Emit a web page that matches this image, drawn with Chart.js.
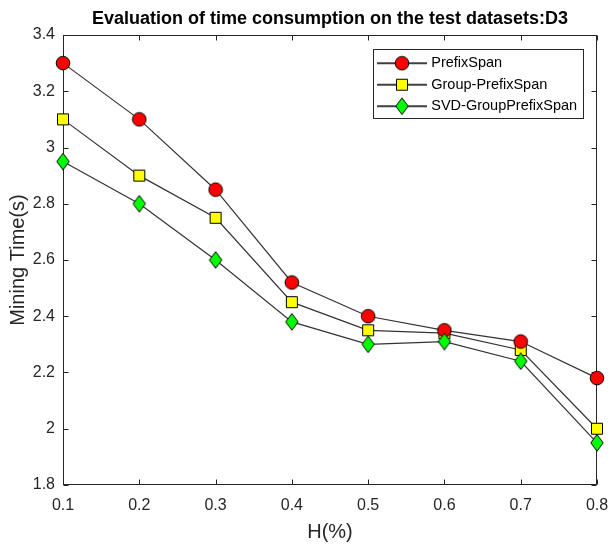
<!DOCTYPE html>
<html><head><meta charset="utf-8">
<script src="https://cdn.jsdelivr.net/npm/chart.js@4.4.1/dist/chart.umd.min.js"></script>
<style>html,body{margin:0;padding:0;background:#fff}</style>
</head><body>
<canvas id="c" width="612" height="545"></canvas>
<script>
// ---- data ----
const categories = ['0.1','0.2','0.3','0.4','0.5','0.6','0.7','0.8'];
const prefixSpan = [3.30, 3.10, 2.85, 2.52, 2.40, 2.35, 2.31, 2.18];
const groupPrefixSpan = [3.10, 2.90, 2.75, 2.45, 2.35, 2.34, 2.28, 2.00];
const svdGroupPrefixSpan = [2.95, 2.80, 2.60, 2.38, 2.30, 2.31, 2.24, 1.95];
const seriesNames = ['PrefixSpan', 'Group-PrefixSpan', 'SVD-GroupPrefixSpan'];
const yTickValues = [1.8, 2.0, 2.2, 2.4, 2.6, 2.8, 3.0, 3.2, 3.4];
const yTickLabels = ['1.8', '2', '2.2', '2.4', '2.6', '2.8', '3', '3.2', '3.4'];
const titleText = 'Evaluation of time consumption on the test datasets:D3';
const xTitle = 'H(%)';
const yTitle = 'Mining Time(s)';

const FONT = "'Liberation Sans', Arial, Helvetica, sans-serif";
const AXIS = '#262626';
const LINE = '#333333';

// ---- marker images ----
function mk(w, h, draw) {
  const c = document.createElement('canvas'); c.width = w; c.height = h;
  const g = c.getContext('2d'); g.lineWidth = 1; g.strokeStyle = '#000';
  draw(g, w, h); return c;
}
function circle(g, cx, cy) { g.beginPath(); g.arc(cx, cy, 6.8, 0, Math.PI * 2); g.fillStyle = '#ff0000'; g.fill(); g.stroke(); }
function square(g, cx, cy) { g.beginPath(); g.rect(cx - 5.5, cy - 5.5, 11, 11); g.fillStyle = '#ffff00'; g.fill(); g.stroke(); }
function diamond(g, cx, cy) { g.beginPath(); g.moveTo(cx, cy - 8.3); g.lineTo(cx + 6.2, cy); g.lineTo(cx, cy + 8.3); g.lineTo(cx - 6.2, cy); g.closePath(); g.fillStyle = '#00ff00'; g.fill(); g.stroke(); }
const drawers = [circle, square, diamond];
const markers = drawers.map(d => mk(16, 18, (g, w, h) => d(g, w / 2, h / 2)));
const legendIcons = drawers.map(d => mk(50, 20, (g, w, h) => {
  g.beginPath(); g.moveTo(0, 10); g.lineTo(50, 10); g.strokeStyle = '#000'; g.lineWidth = 1.4; g.stroke();
  g.lineWidth = 1; g.strokeStyle = '#000'; d(g, 25, 10);
}));

// ---- plugins ----
const axesBox = {
  id: 'axesBox',
  beforeDatasetsDraw(chart) {
    const { ctx, chartArea: a, scales: { x, y } } = chart;
    ctx.save();
    ctx.strokeStyle = AXIS; ctx.lineWidth = 1;
    const L = Math.round(a.left) + 0.5, R = Math.round(a.right) - 0.5, T = Math.round(a.top) + 0.5, B = Math.round(a.bottom) - 0.5;
    ctx.strokeRect(L, T, R - L, B - T);
    ctx.beginPath();
    x.ticks.forEach((t, i) => {
      const px = Math.round(x.getPixelForTick(i)) + 0.5;
      ctx.moveTo(px, B); ctx.lineTo(px, B - 5);
      ctx.moveTo(px, T); ctx.lineTo(px, T + 5);
    });
    y.ticks.forEach(t => {
      const py = Math.round(y.getPixelForValue(t.value)) + 0.5;
      ctx.moveTo(L, py); ctx.lineTo(L + 5, py);
      ctx.moveTo(R, py); ctx.lineTo(R - 5, py);
    });
    ctx.stroke(); ctx.restore();
  }
};
const LEG_W = 210, LEG_H = 69;
const legendPlace = {
  id: 'legendPlace',
  afterLayout(chart) {
    const lg = chart.legend, a = chart.chartArea;
    lg.left = a.right - 14 - LEG_W; lg.right = lg.left + LEG_W; lg.width = LEG_W;
    lg.top = a.top + 14; lg.bottom = lg.top + 200; lg.height = 200;
  },
  afterDraw(chart) {
    const lg = chart.legend, ctx = chart.ctx;
    ctx.save(); ctx.strokeStyle = AXIS; ctx.lineWidth = 1;
    ctx.strokeRect(Math.round(lg.left) + 0.5, Math.round(lg.top) + 0.5, LEG_W, LEG_H);
    ctx.restore();
  }
};

const drawOrder = [1, 2, 0];
const seriesData = [prefixSpan, groupPrefixSpan, svdGroupPrefixSpan];

new Chart(document.getElementById('c'), {
  type: 'line',
  data: {
    labels: categories,
    datasets: seriesData.map((d, i) => ({
      label: seriesNames[i], data: d,
      borderColor: LINE, borderWidth: 1.2, tension: 0, fill: false,
      pointStyle: markers[i], pointRadius: 7, pointHoverRadius: 7,
      clip: false, order: drawOrder[i]
    }))
  },
  options: {
    responsive: false, animation: false, events: [],
    layout: { padding: { left: 0, right: 15, top: 0, bottom: 0 } },
    plugins: {
      tooltip: { enabled: false },
      title: {
        display: true, text: titleText, fullSize: false, color: '#000',
        font: { family: FONT, size: 18, weight: 'bold', lineHeight: 1.2 },
        padding: { top: 8, bottom: 5.4 }
      },
      legend: {
        display: true, position: 'chartArea', align: 'start',
        labels: {
          usePointStyle: true, pointStyleWidth: 44, padding: 7, color: '#000',
          font: { family: FONT, size: 14.5 },
          generateLabels: chart => chart.data.datasets.map((ds, i) => ({
            text: ds.label, pointStyle: legendIcons[i], datasetIndex: i, hidden: false,
            fillStyle: 'transparent', strokeStyle: 'transparent', lineWidth: 0
          }))
        }
      }
    },
    scales: {
      x: {
        type: 'category', offset: false,
        grid: { display: false, drawTicks: false },
        border: { display: false },
        ticks: { color: AXIS, padding: 11, maxRotation: 0, autoSkip: false, font: { family: FONT, size: 16 } },
        title: { display: true, text: xTitle, color: AXIS, font: { family: FONT, size: 20 }, padding: { top: 0, bottom: 1 } },
        afterFit(s) { s.height = 60; s.paddingLeft = 0; s.paddingRight = 0; }
      },
      y: {
        type: 'linear', min: 1.8, max: 3.4,
        grid: { display: false, drawTicks: false },
        border: { display: false },
        afterBuildTicks(s) { s.ticks = yTickValues.map(v => ({ value: v })); },
        ticks: { color: AXIS, padding: 8, font: { family: FONT, size: 16 }, callback: (v, i) => yTickLabels[i] },
        title: { display: true, text: yTitle, color: AXIS, font: { family: FONT, size: 20 }, padding: { top: 6, bottom: 0 } },
        afterFit(s) { s.width = 63; }
      }
    }
  },
  plugins: [axesBox, legendPlace]
});
</script>
</body></html>
